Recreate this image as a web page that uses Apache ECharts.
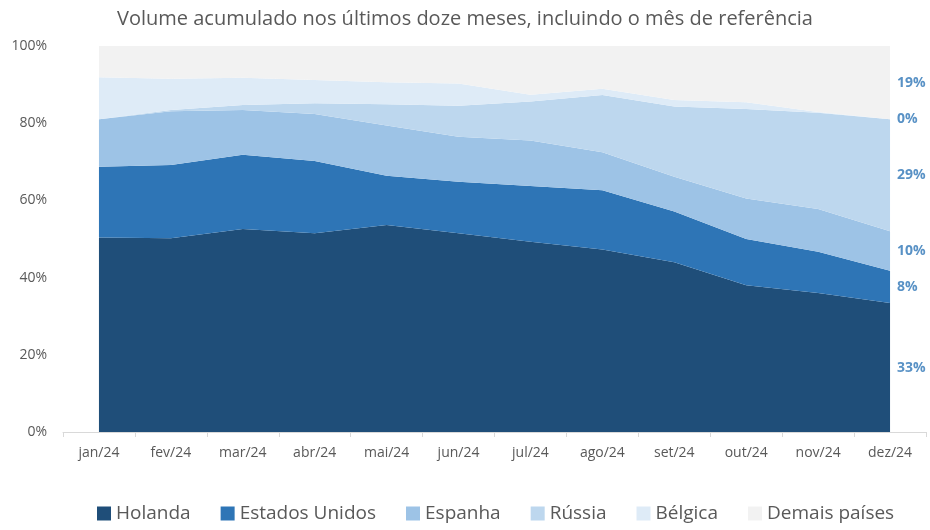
<!DOCTYPE html>
<html><head><meta charset="utf-8">
<script src="https://cdn.jsdelivr.net/npm/echarts@6/dist/echarts.min.js"></script>
<style>html,body{margin:0;padding:0;background:#fff}#c{width:930px;height:530px}</style>
</head><body><div id="c"></div>
<script>
const categories = ['jan/24','fev/24','mar/24','abr/24','mai/24','jun/24','jul/24','ago/24','set/24','out/24','nov/24','dez/24'];
const seriesNames = ['Holanda','Estados Unidos','Espanha','Rússia','Bélgica','Demais países'];
const holanda  = [50.4, 50.2, 52.6, 51.5, 53.6, 51.5, 49.3, 47.3, 44.0, 38.0, 36.0, 33.4];
const eua      = [18.3, 19.0, 19.2, 18.7, 12.8, 13.3, 14.4, 15.3, 13.1, 12.0, 10.7, 8.4];
const espanha  = [12.3, 13.9, 11.6, 12.2, 13.0, 11.7, 11.8, 9.9, 9.0, 10.5, 11.1, 10.2];
const russia   = [0.0, 0.3, 1.3, 2.8, 5.5, 8.0, 10.1, 14.8, 18.2, 23.2, 24.9, 29.0];
const belgica  = [10.9, 8.1, 7.1, 6.0, 5.7, 5.8, 1.8, 1.6, 1.7, 1.7, 0.2, 0.0];
const demais   = [8.1, 8.5, 8.2, 8.8, 9.4, 9.7, 12.6, 11.1, 14.0, 14.6, 17.1, 19.0];
const yTicks = [0, 20, 40, 60, 80, 100];

const values = [holanda, eua, espanha, russia, belgica, demais];
const colors = ['#1f4e79','#2e75b6','#9dc3e6','#bdd7ee','#deebf7','#f2f2f2'];
const txt = '#595959';
const font = '"Open Sans", "Noto Sans", sans-serif';

const areaSeries = values.map((v, i) => ({
  name: seriesNames[i], type: 'line', stack: 'total', data: v,
  symbol: 'none', lineStyle: {width: 0}, areaStyle: {color: colors[i], opacity: 1},
  itemStyle: {color: colors[i]}, z: 2
}));

// end labels at the middle of each segment of the last month
const last = categories.length - 1;
let cum = 0;
const labelData = values.map(v => {
  const mid = cum + v[last] / 2; cum += v[last];
  return {value: [categories[last], mid], pct: Math.round(v[last])};
});

const chart = echarts.init(document.getElementById('c'), null, {renderer: 'canvas'});
chart.setOption({
  animation: false,
  textStyle: {fontFamily: font},
  title: {text: 'Volume acumulado nos últimos doze meses, incluindo o mês de referência',
    left: 'center', top: 4,
    textStyle: {fontFamily: font, fontSize: 20, fontWeight: 'normal', color: txt}},
  grid: {left: 63, right: 4, top: 46, bottom: 98, containLabel: false},
  legend: {data: seriesNames, bottom: 2, left: 92, icon: 'rect', itemWidth: 14, itemHeight: 14,
    itemGap: 30, textStyle: {fontFamily: font, fontSize: 19, color: txt}},
  xAxis: {type: 'category', data: categories, boundaryGap: true,
    axisLine: {lineStyle: {color: '#d9d9d9'}},
    axisTick: {show: true, length: 5, lineStyle: {color: '#d9d9d9'}},
    axisLabel: {color: txt, fontSize: 14, margin: 14, fontFamily: font}},
  yAxis: {type: 'value', min: 0, max: 100, interval: 20,
    axisLine: {show: false}, axisTick: {show: false}, splitLine: {show: false},
    axisLabel: {color: txt, fontSize: 14, margin: 16, fontFamily: font,
      formatter: v => yTicks.includes(v) ? v + '%' : ''}},
  series: areaSeries.concat([{
    type: 'scatter', symbolSize: 0, silent: true, z: 5, data: labelData,
    label: {show: true, position: 'right', distance: 7, color: '#2e75b6', fontWeight: 'bold',
      fontSize: 14, fontFamily: font, formatter: p => p.data.pct + '%'}
  }])
});
</script></body></html>
